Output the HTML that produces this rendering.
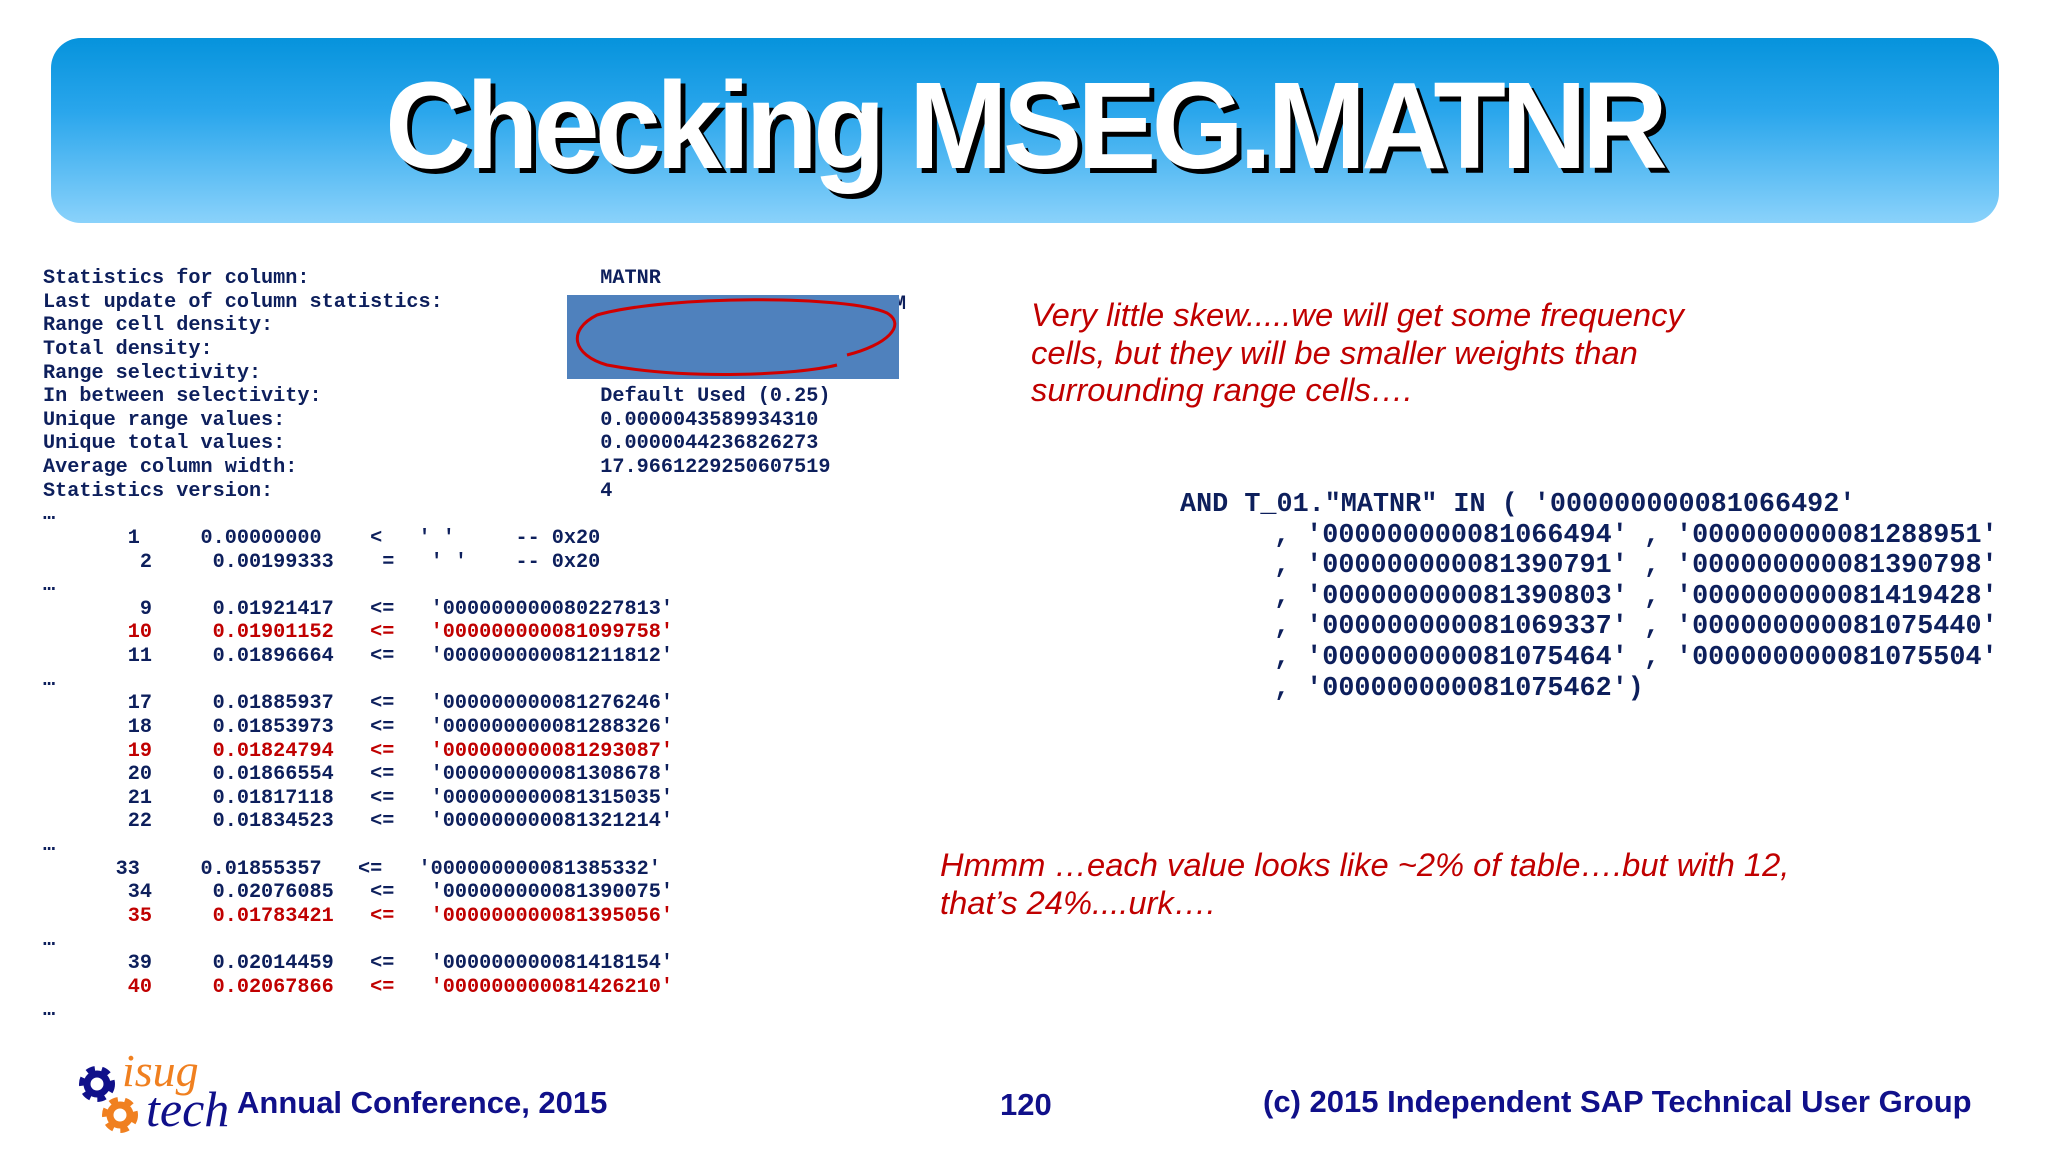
<!DOCTYPE html>
<html><head><meta charset="utf-8"><style>
body{margin:0;width:2048px;height:1150px;background:#fff;position:relative;overflow:hidden;font-family:"Liberation Sans",sans-serif}
.abs{position:absolute}
pre{margin:0;position:absolute;font-family:"Liberation Mono",monospace;font-weight:bold;color:#0d1f5c}
.r{color:#c00000}
.note{position:absolute;color:#c00000;font-style:italic;font-size:32.7px;line-height:37.5px;white-space:nowrap}
.foot{position:absolute;color:#10108a;font-weight:bold;font-size:31px;white-space:nowrap}
</style></head><body>
<div class="abs" style="left:51px;top:38px;width:1948px;height:185px;border-radius:30px;background:linear-gradient(#0693dc,#2aa6ec 40%,#8ad2fb)"></div>
<div class="abs" style="left:0;top:52px;width:2048px;text-align:center;font-size:123px;font-weight:bold;color:#fff;line-height:150px;text-shadow:5px 5px 0 #000;letter-spacing:-5px;transform:scaleX(0.965)">Checking MSEG.MATNR</div>

<pre style="left:43px;top:267px;font-size:20.2px;line-height:23.63px">Statistics for column:                        MATNR
Last update of column statistics:
Range cell density:
Total density:
Range selectivity:
In between selectivity:                       Default Used (0.25)
Unique range values:                          0.0000043589934310
Unique total values:                          0.0000044236826273
Average column width:                         17.9661229250607519
Statistics version:                           4
…
       1     0.00000000    <   ' '     -- 0x20
        2     0.00199333    =   ' '    -- 0x20
…
        9     0.01921417   <=   '000000000080227813'
<span class="r">       10     0.01901152   <=   '000000000081099758'</span>
       11     0.01896664   <=   '000000000081211812'
…
       17     0.01885937   <=   '000000000081276246'
       18     0.01853973   <=   '000000000081288326'
<span class="r">       19     0.01824794   <=   '000000000081293087'</span>
       20     0.01866554   <=   '000000000081308678'
       21     0.01817118   <=   '000000000081315035'
       22     0.01834523   <=   '000000000081321214'
…
      33     0.01855357   <=   '000000000081385332'
       34     0.02076085   <=   '000000000081390075'
<span class="r">       35     0.01783421   <=   '000000000081395056'</span>
…
       39     0.02014459   <=   '000000000081418154'
<span class="r">       40     0.02067866   <=   '000000000081426210'</span>
…</pre>
<div class="abs" style="left:882px;top:293px;font-family:'Liberation Mono',monospace;font-weight:bold;font-size:20px;color:#0d1f5c">AM</div>
<div class="abs" style="left:567px;top:295px;width:332px;height:84px;background:#4f81bd">
<svg width="332" height="84"><path d="M280,60 C320,50 340,30 320,18 C280,0 100,0 30,20 C0,35 5,60 40,70 C120,85 230,80 270,70" fill="none" stroke="#d00000" stroke-width="3"/></svg></div>

<div class="note" style="left:1031px;top:296px">Very little skew.....we will get some frequency<br>cells, but they will be smaller weights than<br>surrounding range cells….</div>

<pre style="left:1180px;top:490px;font-size:26.8px;line-height:30.6px">AND T_01."MATNR" IN ( '000000000081066492'</pre>
<pre style="left:1274px;top:520.6px;font-size:26.8px;line-height:30.6px">, '000000000081066494' , '000000000081288951'
, '000000000081390791' , '000000000081390798'
, '000000000081390803' , '000000000081419428'
, '000000000081069337' , '000000000081075440'
, '000000000081075464' , '000000000081075504'
, '000000000081075462')</pre>

<div class="note" style="left:940px;top:846px">Hmmm …each value looks like ~2% of table….but with 12,<br>that’s 24%....urk….</div>

<svg class="abs" style="left:70px;top:1050px" width="160" height="90">
<circle cx="27" cy="34" r="13" fill="none" stroke="#10108a" stroke-width="10" stroke-dasharray="7 6"/>
<circle cx="27" cy="34" r="10" fill="none" stroke="#10108a" stroke-width="7"/>
<circle cx="50" cy="65" r="13" fill="none" stroke="#f08020" stroke-width="10" stroke-dasharray="7 6"/>
<circle cx="50" cy="65" r="10" fill="none" stroke="#f08020" stroke-width="7"/>
<text x="52" y="36" font-family="Liberation Serif" font-style="italic" font-size="46" fill="#f08020">isug</text>
<text x="76" y="76" font-family="Liberation Serif" font-style="italic" font-size="50" fill="#10108a">tech</text>
</svg>
<div class="foot" style="left:237px;top:1085px">Annual Conference, 2015</div>
<div class="foot" style="left:1000px;top:1087px">120</div>
<div class="foot" style="left:1263px;top:1084px">(c) 2015 Independent SAP Technical User Group</div>
</body></html>
